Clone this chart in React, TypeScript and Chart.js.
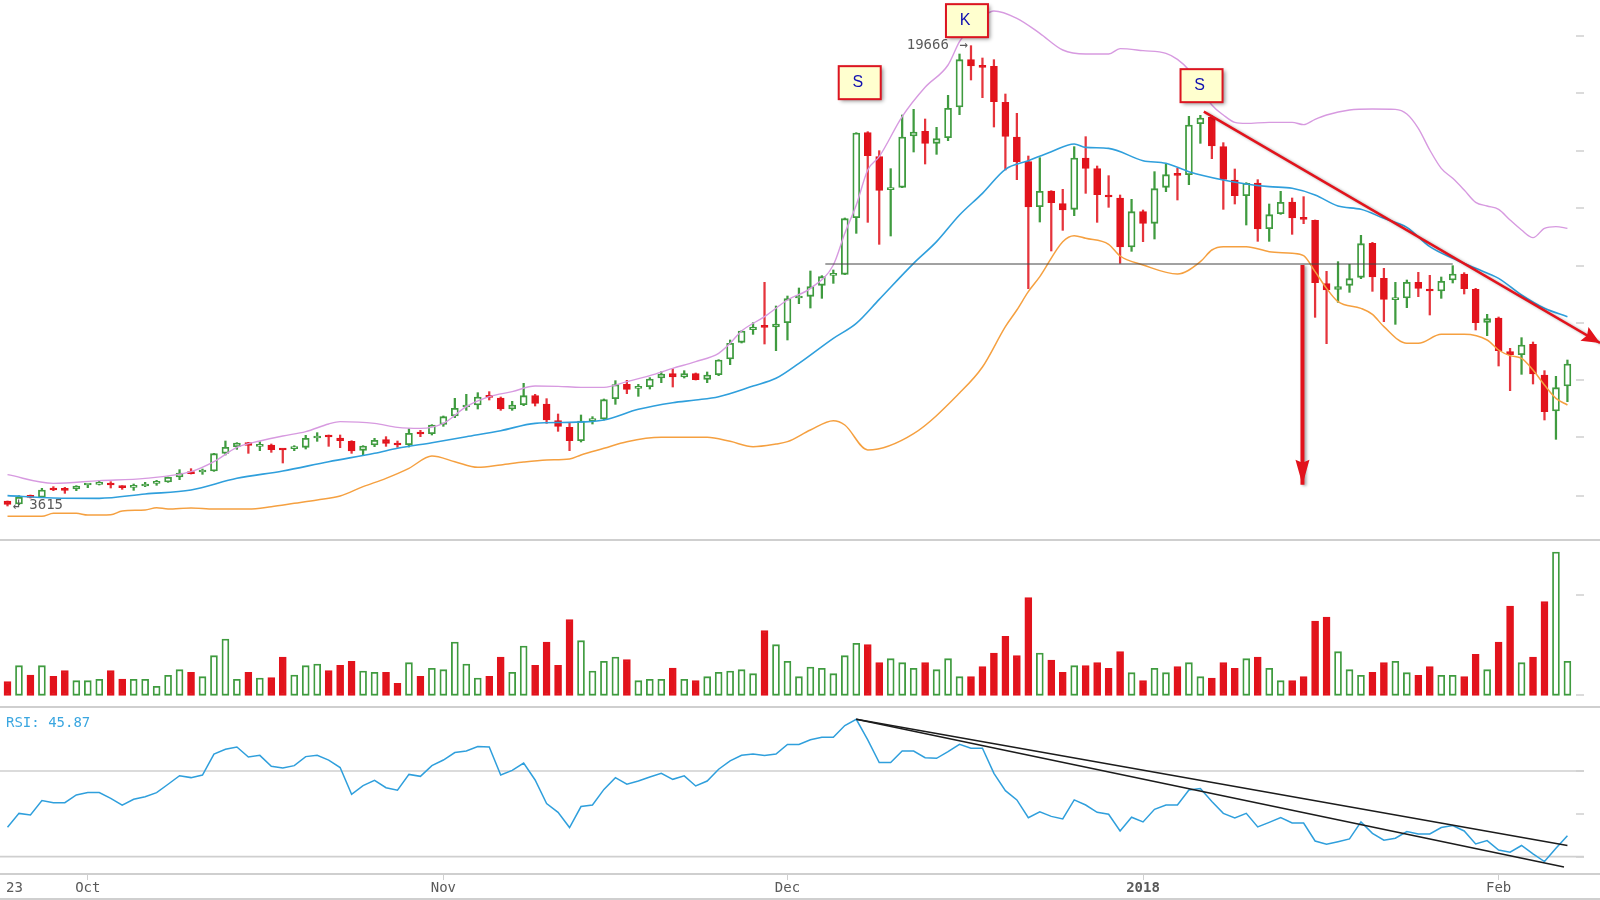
import { useEffect, useRef } from "react"
import { Chart, registerables } from "chart.js"

Chart.register(...registerables)

// price values are read off the picture in log-price units (the axis has no printed scale):
// 3615 sits at 103 and 19666 at 1485 on this unit
const open = [
  117, 108, 131, 128, 151, 151, 153, 165, 167, 167, 163, 158, 162, 170, 174, 189, 202, 204, 207, 260,
  280, 292, 281, 285, 272, 274, 278, 306, 311, 306, 296, 269, 285, 301, 288, 286, 321, 319, 347, 372,
  399, 405, 431, 426, 393, 406, 433, 408, 358, 338, 298, 358, 363, 424, 467, 455, 460, 486, 499, 489,
  499, 482, 496, 543, 593, 631, 641, 639, 652, 726, 731, 764, 794, 797, 967, 1222, 1150, 1051, 1058, 1212,
  1226, 1190, 1207, 1299, 1441, 1421, 1421, 1313, 1209, 1135, 1000, 1047, 1009, 992, 1146, 1114, 1035, 1026, 879, 985,
  950, 1058, 1098, 1096, 1249, 1268, 1180, 1080, 1033, 1071, 934, 979, 1014, 965, 959, 769, 752, 764, 788, 890,
  785, 721, 726, 773, 752, 747, 780, 798, 752, 653, 666, 565, 556, 587, 495, 387, 462,
]
const close = [
  107, 128, 128, 150, 150, 149, 162, 167, 168, 165, 157, 160, 167, 172, 188, 201, 199, 206, 259, 278,
  291, 284, 283, 271, 270, 279, 305, 308, 309, 298, 267, 282, 299, 290, 285, 320, 318, 345, 370, 395,
  402, 429, 428, 393, 405, 433, 410, 360, 341, 298, 357, 361, 421, 466, 452, 458, 483, 498, 489, 499,
  481, 495, 540, 590, 627, 639, 638, 648, 724, 728, 760, 790, 796, 964, 1221, 1153, 1049, 1054, 1209, 1224,
  1190, 1204, 1295, 1441, 1422, 1418, 1315, 1211, 1135, 999, 1046, 1012, 990, 1146, 1115, 1036, 1029, 879, 985, 950,
  1054, 1096, 1094, 1245, 1266, 1182, 1082, 1033, 1070, 933, 976, 1013, 966, 962, 772, 750, 760, 784, 889, 789,
  722, 724, 773, 755, 747, 776, 798, 754, 652, 664, 568, 556, 585, 498, 385, 457, 528,
]
const high = [
  117, 133, 135, 155, 160, 158, 163, 168, 178, 175, 163, 168, 173, 179, 189, 211, 214, 213, 260, 297,
  292, 293, 295, 288, 274, 283, 314, 322, 315, 315, 298, 283, 305, 310, 297, 334, 329, 346, 372, 425,
  437, 442, 445, 429, 416, 470, 437, 424, 378, 350, 375, 370, 423, 478, 479, 467, 487, 505, 514, 508,
  501, 504, 541, 600, 628, 652, 773, 702, 732, 756, 807, 793, 810, 966, 1222, 1225, 1168, 1114, 1275, 1292,
  1263, 1238, 1334, 1458, 1483, 1446, 1441, 1338, 1280, 1152, 1147, 1048, 1052, 1180, 1210, 1122, 1093, 1035, 1022, 990,
  1105, 1128, 1115, 1271, 1274, 1272, 1192, 1113, 1072, 1081, 1008, 1046, 1026, 1030, 960, 806, 835, 827, 914, 893,
  815, 773, 780, 803, 794, 789, 823, 802, 755, 677, 669, 575, 607, 594, 508, 491, 540,
]
const low = [
  102, 106, 126, 127, 148, 140, 148, 157, 165, 156, 152, 149, 160, 164, 173, 181, 198, 197, 206, 255,
  272, 260, 268, 263, 231, 268, 273, 296, 281, 277, 260, 255, 280, 281, 278, 279, 310, 315, 341, 367,
  389, 393, 420, 389, 389, 403, 402, 350, 326, 268, 294, 348, 360, 407, 439, 431, 453, 472, 459, 486,
  480, 472, 493, 526, 591, 617, 588, 568, 600, 709, 696, 725, 770, 796, 920, 953, 887, 912, 1057, 1164,
  1128, 1157, 1198, 1276, 1380, 1327, 1239, 1110, 1081, 754, 954, 867, 929, 973, 1040, 953, 998, 830, 866, 895,
  903, 1045, 1020, 1066, 1190, 1144, 992, 1008, 945, 896, 896, 977, 917, 949, 668, 589, 713, 743, 784, 746,
  655, 647, 697, 730, 675, 725, 771, 738, 630, 613, 522, 448, 497, 468, 360, 302, 415,
]

const volume = [
  41, 89, 61, 89, 57, 74, 44, 44, 48, 74, 49, 48, 48, 27, 60, 77, 69, 56, 119, 169,
  48, 69, 52, 53, 115, 61, 89, 94, 74, 90, 102, 73, 69, 69, 36, 98, 57, 81, 77, 160,
  94, 52, 57, 115, 69, 148, 90, 160, 90, 227, 164, 73, 102, 115, 107, 44, 48, 48, 82, 48,
  44, 56, 69, 73, 77, 65, 194, 152, 102, 56, 85, 81, 65, 119, 156, 152, 98, 110, 98, 81,
  98, 77, 110, 56, 56, 86, 127, 177, 119, 293, 127, 106, 69, 89, 89, 98, 81, 131, 68, 44,
  81, 68, 86, 98, 56, 52, 98, 81, 110, 115, 81, 44, 44, 56, 223, 235, 131, 77, 60, 69,
  98, 102, 68, 60, 86, 60, 60, 56, 123, 77, 160, 268, 98, 115, 281, 430, 102,
]

const rsi = [
  43.7, 50.2, 49.5, 56.2, 55.2, 55.2, 58.8, 59.9, 59.9, 57.2, 54.0, 56.8, 58.0, 59.9, 63.8, 67.8, 66.9, 68.1, 77.9, 80.1,
  81.2, 76.5, 77.3, 72.2, 71.4, 72.5, 76.7, 77.3, 75.1, 71.6, 59.1, 63.2, 65.6, 62.2, 61.0, 68.4, 67.5, 72.5, 75.1, 78.6,
  79.3, 81.4, 81.2, 68.1, 70.3, 73.7, 65.8, 54.8, 50.7, 43.6, 53.4, 54.1, 61.4, 66.9, 63.8, 65.3, 67.2, 68.9, 66.1, 67.7,
  63.0, 65.3, 70.8, 74.7, 77.3, 77.9, 77.2, 77.9, 82.4, 82.4, 84.6, 85.7, 85.7, 91.2, 94.1, 84.5, 73.9, 73.9, 79.3, 79.3,
  76.2, 75.9, 79.0, 82.4, 80.6, 80.6, 68.9, 60.8, 56.5, 48.2, 50.9, 48.8, 47.6, 56.5, 54.1, 50.7, 49.8, 42.0, 48.4, 46.2,
  52.1, 54.1, 54.1, 61.1, 61.8, 55.7, 50.2, 48.1, 50.2, 43.9, 46.0, 48.2, 45.7, 45.7, 37.3, 35.8, 37.0, 38.3, 46.2, 40.9,
  37.7, 38.6, 41.7, 40.6, 40.6, 43.6, 44.5, 42.0, 35.9, 37.5, 33.1, 32.1, 35.2, 31.3, 27.7, 33.9, 39.8,
]

const upperDays = [
  0, 4, 8, 12, 16, 18, 20, 22, 24, 26, 28, 29, 32, 34, 36, 38, 40, 42, 44, 46,
  48, 50, 52, 54, 56, 58, 60, 62, 63, 64, 66, 68, 70, 72, 73, 74, 75, 76, 78, 80,
  82, 83, 84, 85, 86, 88, 90, 92, 94, 96, 97, 99, 101, 102, 103, 105, 106, 107, 108, 110,
  112, 113, 114, 115, 117, 119, 121, 122, 123, 124, 125, 126, 127, 128, 129, 130, 131, 132, 133, 134,
  135, 136,
]
const upperBand = [
  196, 170, 178, 185, 205, 235, 278, 297, 312, 325, 348, 355, 350, 338, 335, 350, 400, 430, 445, 462,
  461, 458, 458, 475, 493, 515, 535, 560, 590, 627, 670, 720, 755, 825, 920, 1005, 1110, 1150, 1270, 1358,
  1425, 1495, 1540, 1570, 1587, 1565, 1520, 1470, 1458, 1458, 1474, 1468, 1460, 1442, 1410, 1305, 1275, 1253, 1250, 1253,
  1253, 1246, 1262, 1275, 1290, 1293, 1292, 1278, 1235, 1170, 1115, 1085, 1050, 1013, 1002, 992, 960, 930, 907, 935,
  940, 935,
]

const middleDays = [
  0, 4, 8, 12, 16, 20, 24, 28, 32, 34, 37, 40, 43, 46, 49, 52, 55, 58, 60, 62,
  65, 67, 69, 72, 74, 76, 79, 81, 83, 85, 87, 89, 91, 93, 94, 96, 99, 101, 103, 106,
  108, 110, 112, 114, 116, 118, 120, 122, 124, 126, 128, 130, 132, 134, 136,
]
const middleBand = [
  133, 126, 125, 138, 150, 185, 207, 235, 260, 275, 292, 310, 328, 350, 353, 360, 392, 412, 420, 430,
  462, 485, 530, 605, 650, 722, 830, 895, 975, 1040, 1112, 1138, 1165, 1188, 1178, 1175, 1138, 1130, 1105, 1080,
  1068, 1060, 1055, 1035, 1002, 992, 965, 938, 880, 845, 815, 785, 735, 695, 670,
]

const lowerDays = [
  0, 3, 4, 6, 7, 9, 10, 12, 13, 14, 16, 18, 21, 23, 25, 27, 29, 31, 33, 35,
  37, 39, 41, 43, 45, 47, 49, 50, 52, 54, 57, 61, 63, 65, 67, 68, 70, 72, 73, 75,
  79, 83, 85, 87, 88, 89, 90, 92, 93, 94, 96, 97, 99, 102, 104, 105, 106, 108, 110, 112,
  113, 114, 115, 116, 118, 119, 120, 122, 123, 125, 127, 129, 130, 131, 132, 133, 134, 135, 136,
]
const lowerBand = [
  71, 71, 80, 80, 75, 76, 87, 90, 97, 93, 96, 93, 93, 100, 110, 120, 132, 160, 185, 215,
  252, 235, 218, 225, 234, 240, 243, 255, 275, 295, 308, 308, 296, 280, 288, 295, 330, 358, 345, 270,
  319, 441, 519, 640, 690, 745, 790, 895, 913, 905, 887, 852, 825, 798, 835, 870, 880, 880, 865, 860,
  853, 805, 755, 715, 695, 677, 640, 590, 590, 617, 617, 600, 570, 553, 545, 510, 465, 425, 405,
]

// hand drawn lines on the price pane: [day, value]
const supportLine = [[71.3, 828], [126, 828]]
const resistanceLine = [[104.3, 1285], [138.84, 591]]
const targetLine = [[112.9, 825], [112.9, 166]]
const patternLabels = [
  { day: 74.3, value: 1372, text: "S" },
  { day: 83.65, value: 1558, text: "K" },
  { day: 104.1, value: 1363, text: "S" },
]

const rsiGuides = [70, 30]
const rsiTrendUpper = [[74, 94.1], [136, 35.2]]
const rsiTrendLower = [[74, 94.1], [135.7, 25.2]]

const priceTicks = [1512, 1341, 1167, 996, 822, 651, 480, 309, 132]
const volumeTicks = [301, 0]
const rsiTicks = [70, 50, 30]
const dateDays = [0.61, 7, 38, 68, 99, 130]
const dateLabels = ["23", "Oct", "Nov", "Dec", "2018", "Feb"]

const GREEN = "#3f9b3f"
const RED = "#e2131c"
const GREY_LINE = "#cfcfcf"
const MONO = "'DejaVu Sans Mono', monospace"

const days = open.map((_, i) => i)
const isUp = (i: number) => close[i] >= open[i]
const upColor = (i: number, up: string, down: string) => (isUp(i) ? up : down)
const pairs = (xs: number[], ys: number[]) => xs.map((x, i) => ({ x, y: ys[i] }))
const points = (line: number[][]) => line.map(([x, y]) => ({ x, y }))

const xScale = {
  type: "linear",
  min: -0.654,
  max: 138.84,
  offset: false,
  display: false,
  grid: { display: false },
}

const lineSet = (data: any[], color: string, width: number, extra = {}) => ({
  type: "line",
  data,
  borderColor: color,
  borderWidth: width,
  pointRadius: 0,
  order: 0,
  ...extra,
})

function rightTickPlugin(values: number[]) {
  return {
    id: "rightTicks",
    afterDatasetsDraw(chart: any) {
      const { ctx, chartArea, scales } = chart
      ctx.save()
      ctx.strokeStyle = GREY_LINE
      ctx.lineWidth = 1.5
      values.forEach((v) => {
        const y = Math.round(scales.y.getPixelForValue(v))
        ctx.beginPath()
        ctx.moveTo(chartArea.right - 24, y)
        ctx.lineTo(chartArea.right - 16, y)
        ctx.stroke()
      })
      ctx.restore()
    },
  }
}

function arrowHead(ctx: any, fromX: number, fromY: number, tipX: number, tipY: number, len: number, half: number) {
  const a = Math.atan2(tipY - fromY, tipX - fromX)
  ctx.save()
  ctx.translate(tipX, tipY)
  ctx.rotate(a)
  ctx.fillStyle = RED
  ctx.beginPath()
  ctx.moveTo(0, 0)
  ctx.lineTo(-len - 3, -half)
  ctx.lineTo(-len, 0)
  ctx.lineTo(-len - 3, half)
  ctx.closePath()
  ctx.fill()
  ctx.restore()
}

// the two red drawn lines carry a soft shadow in the picture
const redLineShadow = {
  id: "redLineShadow",
  beforeDatasetDraw(chart: any, args: any) {
    if (args.index > 1) return
    const { ctx } = chart
    ctx.save()
    ctx.shadowColor = "rgba(0,0,0,0.35)"
    ctx.shadowBlur = 3
    ctx.shadowOffsetX = 2
    ctx.shadowOffsetY = 1
  },
  afterDatasetDraw(chart: any, args: any) {
    if (args.index > 1) return
    chart.ctx.restore()
  },
}

const priceNotes = {
  id: "priceNotes",
  afterDatasetsDraw(chart: any) {
    const { ctx, scales } = chart
    const px = (d: number) => scales.x.getPixelForValue(d)
    const py = (v: number) => scales.y.getPixelForValue(v)

    arrowHead(ctx, px(resistanceLine[0][0]), py(resistanceLine[0][1]), px(resistanceLine[1][0]), py(resistanceLine[1][1]), 15, 8)
    arrowHead(ctx, px(targetLine[0][0]), py(targetLine[0][1]), px(targetLine[1][0]), py(targetLine[1][1]), 22, 7)

    ctx.save()
    ctx.font = `14px ${MONO}`
    ctx.fillStyle = "#5a5a5a"
    ctx.textBaseline = "middle"
    ctx.textAlign = "left"
    ctx.fillText("19666", px(78.4), py(1485))
    ctx.fillText("→", px(83), py(1485))
    ctx.fillText("↲", px(0.4), py(103))
    ctx.fillText("3615", px(1.9), py(103))

    patternLabels.forEach((note) => {
      const x = px(note.day)
      const y = py(note.value)
      ctx.save()
      ctx.shadowColor = "rgba(0,0,0,0.45)"
      ctx.shadowBlur = 4
      ctx.shadowOffsetX = 2
      ctx.shadowOffsetY = 2
      ctx.fillStyle = "#ffffcf"
      ctx.fillRect(x - 21, y - 16.5, 42, 33)
      ctx.restore()
      ctx.strokeStyle = "#dc1420"
      ctx.lineWidth = 2
      ctx.strokeRect(x - 21, y - 16.5, 42, 33)
      ctx.font = "16px 'Liberation Sans', sans-serif"
      ctx.fillStyle = "#1010b0"
      ctx.textAlign = "center"
      ctx.fillText(note.text, x - 2, y)
    })
    ctx.restore()
  },
}

const rsiNote = {
  id: "rsiNote",
  afterDatasetsDraw(chart: any) {
    const { ctx, chartArea } = chart
    ctx.save()
    ctx.font = `14px ${MONO}`
    ctx.fillStyle = "#3aa6e0"
    ctx.textBaseline = "middle"
    ctx.fillText("RSI: 45.87", chartArea.left + 6, chartArea.top + 15)
    ctx.restore()
  },
}

const basePlugins = { legend: { display: false }, tooltip: { enabled: false } }

const priceConfig = {
  type: "bar",
  data: {
    datasets: [
      lineSet(points(resistanceLine), RED, 2.5),
      lineSet(points(targetLine), RED, 4),
      lineSet(points(supportLine), "#444444", 1),
      lineSet(pairs(upperDays, upperBand), "#d79ae0", 1.4, { cubicInterpolationMode: "monotone", order: 1 }),
      lineSet(pairs(middleDays, middleBand), "#2f9fdc", 1.6, { cubicInterpolationMode: "monotone", order: 1 }),
      lineSet(pairs(lowerDays, lowerBand), "#f5a040", 1.5, { cubicInterpolationMode: "monotone", order: 1 }),
      {
        data: days.map((i) => ({ x: i, y: [open[i], close[i]] })),
        backgroundColor: days.map((i) => upColor(i, "#ffffff", RED)),
        borderColor: days.map((i) => upColor(i, GREEN, RED)),
        borderWidth: 1.8,
        borderSkipped: false,
        barThickness: 7,
        minBarLength: 2,
        grouped: false,
        order: 2,
      },
      {
        data: days.map((i) => ({ x: i, y: [low[i], high[i]] })),
        backgroundColor: days.map((i) => upColor(i, GREEN, "#e5343c")),
        borderWidth: 0,
        barThickness: 1.6,
        grouped: false,
        order: 3,
      },
    ],
  },
  options: {
    animation: false,
    responsive: false,
    events: [],
    plugins: basePlugins,
    scales: {
      x: xScale,
      y: { type: "linear", min: 3, max: 1620, display: false, grid: { display: false } },
    },
  },
  plugins: [redLineShadow, rightTickPlugin(priceTicks), priceNotes],
}

const volumeConfig = {
  type: "bar",
  data: {
    datasets: [
      {
        data: days.map((i) => ({ x: i, y: volume[i] })),
        backgroundColor: days.map((i) => upColor(i, "#ffffff", RED)),
        borderColor: days.map((i) => upColor(i, GREEN, RED)),
        borderWidth: 1.8,
        borderSkipped: false,
        barThickness: 7,
        grouped: false,
      },
    ],
  },
  options: {
    animation: false,
    responsive: false,
    events: [],
    plugins: basePlugins,
    scales: {
      x: xScale,
      y: { type: "linear", min: -32, max: 463, display: false, grid: { display: false } },
    },
  },
  plugins: [rightTickPlugin(volumeTicks)],
}

const rsiConfig = {
  type: "line",
  data: {
    datasets: [
      ...rsiGuides.map((level) =>
        lineSet([{ x: -0.654, y: level }, { x: 137.44, y: level }], GREY_LINE, 1.6, { order: 2 }),
      ),
      lineSet(pairs(days, rsi), "#2f9fdc", 1.5, { order: 1 }),
      lineSet(points(rsiTrendUpper), "#1c1c1c", 1.5),
      lineSet(points(rsiTrendLower), "#1c1c1c", 1.5),
    ],
  },
  options: {
    animation: false,
    responsive: false,
    events: [],
    plugins: basePlugins,
    scales: {
      x: {
        ...xScale,
        display: true,
        border: { color: GREY_LINE, width: 2 },
        grid: {
          drawOnChartArea: false,
          drawTicks: true,
          tickLength: 6,
          tickColor: (ctx: any) => (ctx.index === 0 ? "transparent" : GREY_LINE),
        },
        afterBuildTicks: (scale: any) => {
          scale.ticks = dateDays.map((value) => ({ value }))
        },
        afterFit: (scale: any) => {
          scale.height = 24
        },
        ticks: {
          autoSkip: false,
          maxRotation: 0,
          padding: 0,
          color: "#5a5a5a",
          font: (ctx: any) => ({
            family: MONO,
            size: 14,
            weight: ctx.index === 4 ? "bold" : "normal",
          }),
          callback: (_: any, index: number) => dateLabels[index],
        },
      },
      y: { type: "linear", min: 21.9, max: 99.4, display: false, grid: { display: false } },
    },
  },
  plugins: [rightTickPlugin(rsiTicks), rsiNote],
}

function Pane({ top, height, config }: { top: number; height: number; config: any }) {
  const canvasRef = useRef<HTMLCanvasElement>(null)

  useEffect(() => {
    if (!canvasRef.current) return
    const chart = new Chart(canvasRef.current, config)
    return () => chart.destroy()
  }, [config])

  return (
    <div
      style={{
        position: "absolute",
        left: 0,
        top,
        width: 1600,
        height: height + 2,
        boxSizing: "border-box",
        borderBottom: `2px solid ${GREY_LINE}`,
      }}
    >
      <canvas ref={canvasRef} width={1600} height={height} style={{ display: "block" }} />
    </div>
  )
}

export default function App() {
  return (
    <div style={{ position: "absolute", left: 0, top: 0, width: 1600, height: 900, overflow: "hidden", background: "#fff" }}>
      <Pane top={0} height={539} config={priceConfig} />
      <Pane top={541} height={165} config={volumeConfig} />
      <Pane top={708} height={190} config={rsiConfig} />
    </div>
  )
}
